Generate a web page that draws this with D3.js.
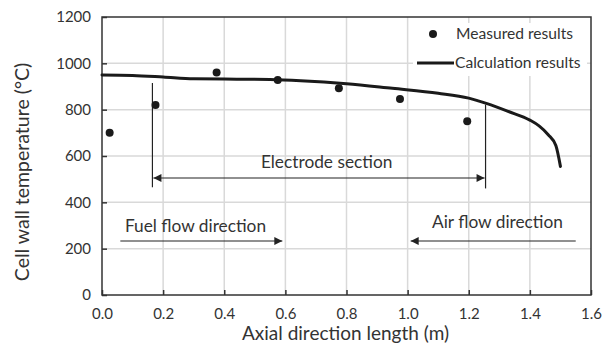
<!DOCTYPE html>
<html>
<head>
<meta charset="utf-8">
<script src="https://cdn.jsdelivr.net/npm/d3@7"></script>
<style>
  body { margin: 0; background: #fff; }
  text { font-family: Lato, "Open Sans", sans-serif; fill: #333; }
</style>
</head>
<body>
<script>
(function(){
  var width = 609, height = 345;
  var margin = { left: 102, right: 18, top: 17, bottom: 50 };

  // measured cell wall temperature
  var measuredX = [0.025, 0.175, 0.375, 0.575, 0.775, 0.975, 1.195];
  var measuredT = [700, 820, 960, 928, 892, 846, 750];

  // calculated profile
  var calcX = [0, 0.1, 0.2, 0.3, 0.4, 0.55, 0.65, 0.8, 0.95, 1.1, 1.2, 1.26, 1.33, 1.4, 1.43, 1.46, 1.485, 1.5];
  var calcT = [950, 948, 941, 933, 932, 930, 925, 912, 892, 871, 850, 826, 792, 755, 730, 692, 645, 555];

  var xTicks = [0, 0.2, 0.4, 0.6, 0.8, 1.0, 1.2, 1.4, 1.6];
  var yTicks = [0, 200, 400, 600, 800, 1000, 1200];

  var electrode = [0.165, 1.255];
  var fuelArrow = [0.06, 0.59];
  var airArrow = [1.55, 1.01];

  var svg = d3.select("body").append("svg")
    .attr("width", width)
    .attr("height", height);

  var defs = svg.append("defs");
  defs.append("marker")
    .attr("id", "head")
    .attr("viewBox", "0 0 10 10")
    .attr("refX", 10).attr("refY", 5)
    .attr("markerWidth", 10).attr("markerHeight", 8)
    .attr("markerUnits", "userSpaceOnUse")
    .attr("orient", "auto-start-reverse")
    .append("path")
    .attr("d", "M0,0L10,5L0,10Z")
    .attr("fill", "#222");

  var x = d3.scaleLinear().domain([0, 1.6]).range([margin.left, width - margin.right]);
  var y = d3.scaleLinear().domain([0, 1200]).range([height - margin.bottom, margin.top]);

  // grid
  svg.append("g").selectAll("line.v").data(xTicks.slice(1, -1)).join("line")
    .attr("x1", d => x(d)).attr("x2", d => x(d))
    .attr("y1", y(0)).attr("y2", y(1200))
    .attr("stroke", "#d9d9d9").attr("stroke-width", 1.5);
  svg.append("g").selectAll("line.h").data(yTicks.slice(1, -1)).join("line")
    .attr("x1", x(0)).attr("x2", x(1.6))
    .attr("y1", d => y(d)).attr("y2", d => y(d))
    .attr("stroke", "#d9d9d9").attr("stroke-width", 1.5);

  // axes
  var xAxis = svg.append("g")
    .attr("transform", "translate(0," + y(0) + ")")
    .call(d3.axisBottom(x).tickValues(xTicks).tickSize(-5).tickPadding(13).tickFormat(d3.format(".1f")));
  var yAxis = svg.append("g")
    .attr("transform", "translate(" + x(0) + ",0)")
    .call(d3.axisLeft(y).tickValues(yTicks).tickSize(-5).tickPadding(11).tickFormat(d3.format("d")));
  [xAxis, yAxis].forEach(function(a){
    a.select(".domain").remove();
    a.selectAll(".tick line").attr("stroke", "#333").attr("stroke-width", 1.5);
    a.selectAll(".tick text").attr("font-size", 15).attr("fill", "#404040")
      .style("font-family", "Lato, sans-serif");
  });

  // frame
  svg.append("rect")
    .attr("x", x(0)).attr("y", y(1200))
    .attr("width", x(1.6) - x(0)).attr("height", y(0) - y(1200))
    .attr("fill", "none").attr("stroke", "#333").attr("stroke-width", 1.5);

  // axis titles
  svg.append("text")
    .attr("x", (x(0) + x(1.6)) / 2 - 1).attr("y", 340)
    .attr("text-anchor", "middle").attr("font-size", 19)
    .text("Axial direction length (m)");
  svg.append("text")
    .attr("transform", "translate(29,172) rotate(-90)")
    .attr("text-anchor", "middle").attr("font-size", 19.5)
    .text("Cell wall temperature (°C)");

  // electrode section
  var ann = svg.append("g").attr("stroke", "#222").attr("stroke-width", 1.2);
  ann.append("line")
    .attr("x1", x(electrode[0])).attr("x2", x(electrode[0]))
    .attr("y1", y(915)).attr("y2", y(465));
  ann.append("line")
    .attr("x1", x(electrode[1])).attr("x2", x(electrode[1]))
    .attr("y1", y(822)).attr("y2", y(460));
  ann.append("line")
    .attr("x1", x(electrode[0]) + 1).attr("x2", x(electrode[1]) - 1)
    .attr("y1", y(505)).attr("y2", y(505))
    .attr("marker-start", "url(#head)").attr("marker-end", "url(#head)");
  ann.append("line")
    .attr("x1", x(fuelArrow[0])).attr("x2", x(fuelArrow[1]))
    .attr("y1", y(233)).attr("y2", y(233))
    .attr("marker-end", "url(#head)");
  ann.append("line")
    .attr("x1", x(airArrow[0])).attr("x2", x(airArrow[1]))
    .attr("y1", y(233)).attr("y2", y(233))
    .attr("marker-end", "url(#head)");

  svg.append("text").attr("x", x(0.735)).attr("y", y(548))
    .attr("text-anchor", "middle").attr("font-size", 17.3).text("Electrode section");
  svg.append("text").attr("x", x(0.075)).attr("y", y(270))
    .attr("font-size", 17.3).text("Fuel flow direction");
  svg.append("text").attr("x", x(1.08)).attr("y", y(288))
    .attr("font-size", 17.3).text("Air flow direction");

  // calculated line
  var line = d3.line()
    .x((d, i) => x(calcX[i]))
    .y(d => y(d))
    .curve(d3.curveMonotoneX);
  svg.append("path")
    .datum(calcT)
    .attr("d", line)
    .attr("fill", "none")
    .attr("stroke", "#1a1a1a")
    .attr("stroke-width", 3)
    .attr("stroke-linecap", "round");

  // measured points
  svg.append("g").selectAll("circle").data(measuredT).join("circle")
    .attr("cx", (d, i) => x(measuredX[i]))
    .attr("cy", d => y(d))
    .attr("r", 4)
    .attr("fill", "#1a1a1a");

  // legend
  var lg = svg.append("g");
  lg.append("rect").attr("x", 413).attr("y", 23).attr("width", 174).attr("height", 53).attr("fill", "#fff");
  lg.append("circle").attr("cx", 433).attr("cy", 34).attr("r", 4).attr("fill", "#1a1a1a");
  lg.append("text").attr("x", 456).attr("y", 39).attr("font-size", 15.6).text("Measured results");
  lg.append("line").attr("x1", 417).attr("x2", 454).attr("y1", 63).attr("y2", 63)
    .attr("stroke", "#1a1a1a").attr("stroke-width", 3);
  lg.append("text").attr("x", 455).attr("y", 68).attr("font-size", 15.6).text("Calculation results");
})();
</script>
</body>
</html>
